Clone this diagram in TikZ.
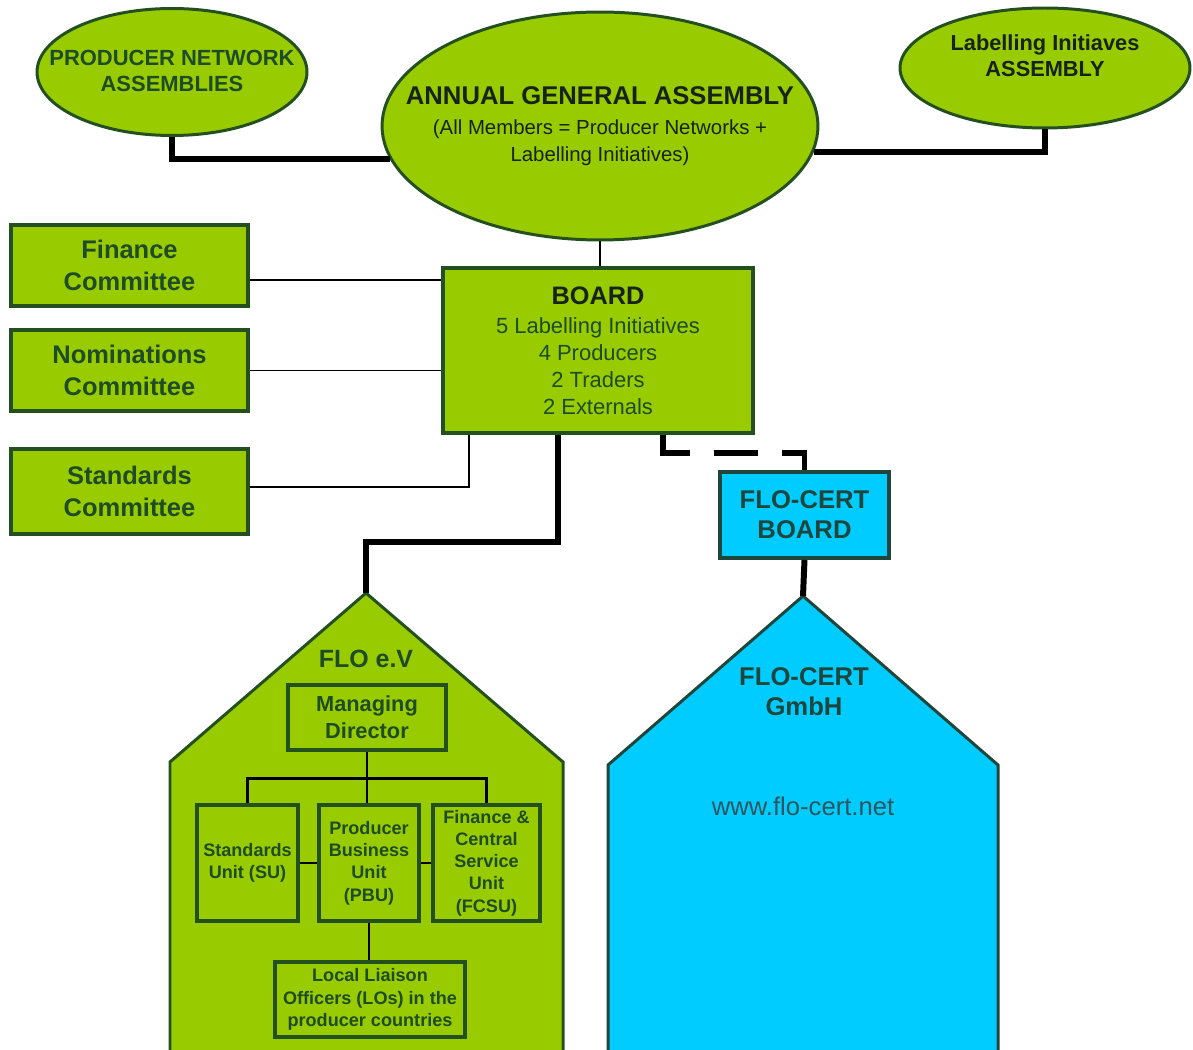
\documentclass[tikz,border=0pt]{standalone}
\usepackage{fontspec}
\setmainfont{Liberation Sans}
\usetikzlibrary{shapes.geometric,calc}
\definecolor{flogreen}{HTML}{99CC00}
\definecolor{edgegreen}{HTML}{24501F}
\definecolor{txtgreen}{HTML}{1E4B28}
\definecolor{darktxt}{HTML}{16221A}
\definecolor{flocyan}{HTML}{00CCFF}
\definecolor{edgeteal}{HTML}{1E463C}
\definecolor{urlcol}{HTML}{2F5560}
\begin{document}
\begin{tikzpicture}[x=0.02cm,y=-0.02cm,
  ell/.style={ellipse, draw=edgegreen, fill=flogreen, line width=1.7pt, inner sep=0pt},
  comm/.style={rectangle, draw=edgegreen, fill=flogreen, line width=2.5pt, inner sep=0pt, align=center, text=txtgreen,
    font=\fontsize{14.5}{18}\selectfont\bfseries},
  boardbox/.style={rectangle, draw=edgegreen, fill=flogreen, line width=2.5pt, inner sep=0pt, align=center, text=txtgreen,
    font=\fontsize{12.5}{15.3}\selectfont},
  certbox/.style={rectangle, draw=edgeteal, fill=flocyan, line width=2.2pt, inner sep=0pt, align=center, text=edgeteal,
    font=\fontsize{14.6}{17}\selectfont\bfseries},
  mdbox/.style={rectangle, draw=edgegreen, fill=flogreen, line width=2.4pt, inner sep=0pt, align=center, text=txtgreen,
    font=\fontsize{12.4}{15.3}\selectfont\bfseries},
  unitbox/.style={rectangle, draw=edgegreen, fill=flogreen, line width=2.6pt, inner sep=0pt, align=center, text=txtgreen,
    font=\fontsize{10.3}{12.7}\selectfont\bfseries},
  housegreen/.style={draw=edgegreen, fill=flogreen, line width=1.7pt, line join=miter},
  housecyan/.style={draw=edgeteal, fill=flocyan, line width=1.7pt, line join=miter},
  thickconn/.style={line width=3.4pt, black},
  dashconn/.style={line width=3.4pt, black, dash pattern=on 25.5pt off 13.6pt},
  thinconn/.style={line width=1.1pt, black},
  innerconn/.style={line width=1.5pt, black},
  lbl/.style={inner sep=0pt, align=center}
]
\useasboundingbox (0,0) rectangle (1193,1050);
\fill[white] (0,0) rectangle (1193,1050);

% houses
\coordinate (floapex) at (366,593);
\coordinate (certapex) at (803,596);
\draw[housegreen] (floapex) -- (563,762) -- (563,1070) -- (170,1070) -- (170,762) -- cycle;
\draw[housecyan] (certapex) -- (998,765) -- (998,1070) -- (608,1070) -- (608,765) -- cycle;
\node[lbl, text=txtgreen, font=\fontsize{14.2}{17}\selectfont\bfseries] (flotitle) at (366,659) {FLO e.V};
\node[lbl, text=edgeteal, font=\fontsize{14.6}{17}\selectfont\bfseries] (certtitle) at (804,692) {FLO-CERT\\GmbH};
\node[lbl, text=urlcol, font=\fontsize{14.6}{17}\selectfont] (url) at (803,806) {www.flo-cert.net};

% ellipses
\node[ell, minimum width=5.4cm, minimum height=2.54cm] (pna) at (172,72) {};
\node[lbl, text=txtgreen, font=\fontsize{12.5}{14.7}\selectfont\bfseries] (pnat) at (172,71) {PRODUCER NETWORK\\ASSEMBLIES};
\node[ell, minimum width=8.72cm, minimum height=4.56cm] (aga) at (600,126) {};
\node[lbl, text=darktxt, font=\fontsize{11.6}{15.3}\selectfont] (agat) at (600,126)
  {{\fontsize{14.6}{17}\selectfont\bfseries ANNUAL GENERAL ASSEMBLY}\\[1.7pt]
   (All Members = Producer Networks +\\Labelling Initiatives)};
\node[ell, minimum width=5.8cm, minimum height=2.4cm] (lia) at (1045,68) {};
\node[lbl, text=darktxt, font=\fontsize{12.4}{14.7}\selectfont\bfseries] (liat) at (1045,56) {Labelling Initiaves\\ASSEMBLY};

% committees and board
\node[comm, minimum width=4.74cm, minimum height=1.62cm] (fin) at (129.5,265.5) {Finance\\Committee};
\node[comm, minimum width=4.74cm, minimum height=1.62cm] (nom) at (129.5,370.5) {Nominations\\Committee};
\node[comm, minimum width=4.74cm, minimum height=1.70cm] (std) at (129.5,491.5) {Standards\\Committee};
\node[boardbox, minimum width=6.2cm, minimum height=3.3cm] (board) at (598,350.5)
  {{\fontsize{14.4}{17}\selectfont\bfseries\color{darktxt}BOARD}\\[1.2pt]
   5 Labelling Initiatives\\4 Producers\\2 Traders\\2 Externals};
\node[certbox, minimum width=3.38cm, minimum height=1.72cm] (fcb) at (804.5,515) {FLO-CERT\\BOARD};

% FLO e.V internals
\node[mdbox, minimum width=3.16cm, minimum height=1.30cm] (md) at (367,717.5) {Managing\\Director};
\node[unitbox, minimum width=2.02cm, minimum height=2.32cm] (su) at (247.5,863) {Standards\\Unit (SU)};
\node[unitbox, minimum width=2.0cm, minimum height=2.32cm] (pbu) at (369,863) {Producer\\Business\\Unit\\(PBU)};
\node[unitbox, minimum width=2.14cm, minimum height=2.32cm] (fcsu) at (486.5,863) {Finance \&\\Central\\Service\\Unit\\(FCSU)};
\node[unitbox, minimum width=3.8cm, minimum height=1.5cm] (lo) at (370,999.5) {Local Liaison\\Officers (LOs) in the\\producer countries};

% connectors top
\draw[thickconn] (pna.south) |- (aga.189.1);
\draw[thickconn] (lia.south) |- (aga.-7.6);
\draw[thinconn] (aga.south) -- (aga.south |- board.north);
\draw[thinconn] (fin.-7.45) -- (fin.-7.45 -| board.west);
\draw[thinconn] (nom.east) -- (nom.east -| board.west);
\draw[thinconn] (std.2.66) -| ([xshift=0.56cm]board.south west);
\draw[thickconn] ([xshift=-0.8cm]board.south) -- ++(0,107) -| (floapex);
\draw[dashconn] ([xshift=1.3cm]board.south) -- ++(0,18) -| (fcb.north);
\draw[thickconn] (fcb.south) -- (certapex);

% connectors inside FLO e.V
\draw[innerconn] (md.south) -- (md.south |- pbu.north);
\draw[innerconn] (su.north) -- ++(0,-24) -| (fcsu.north);
\draw[innerconn] (su.east) -- (pbu.west);
\draw[innerconn] (pbu.east) -- (fcsu.west);
\draw[innerconn] (pbu.south) -- (pbu.south |- lo.north);
\end{tikzpicture}
\end{document}
